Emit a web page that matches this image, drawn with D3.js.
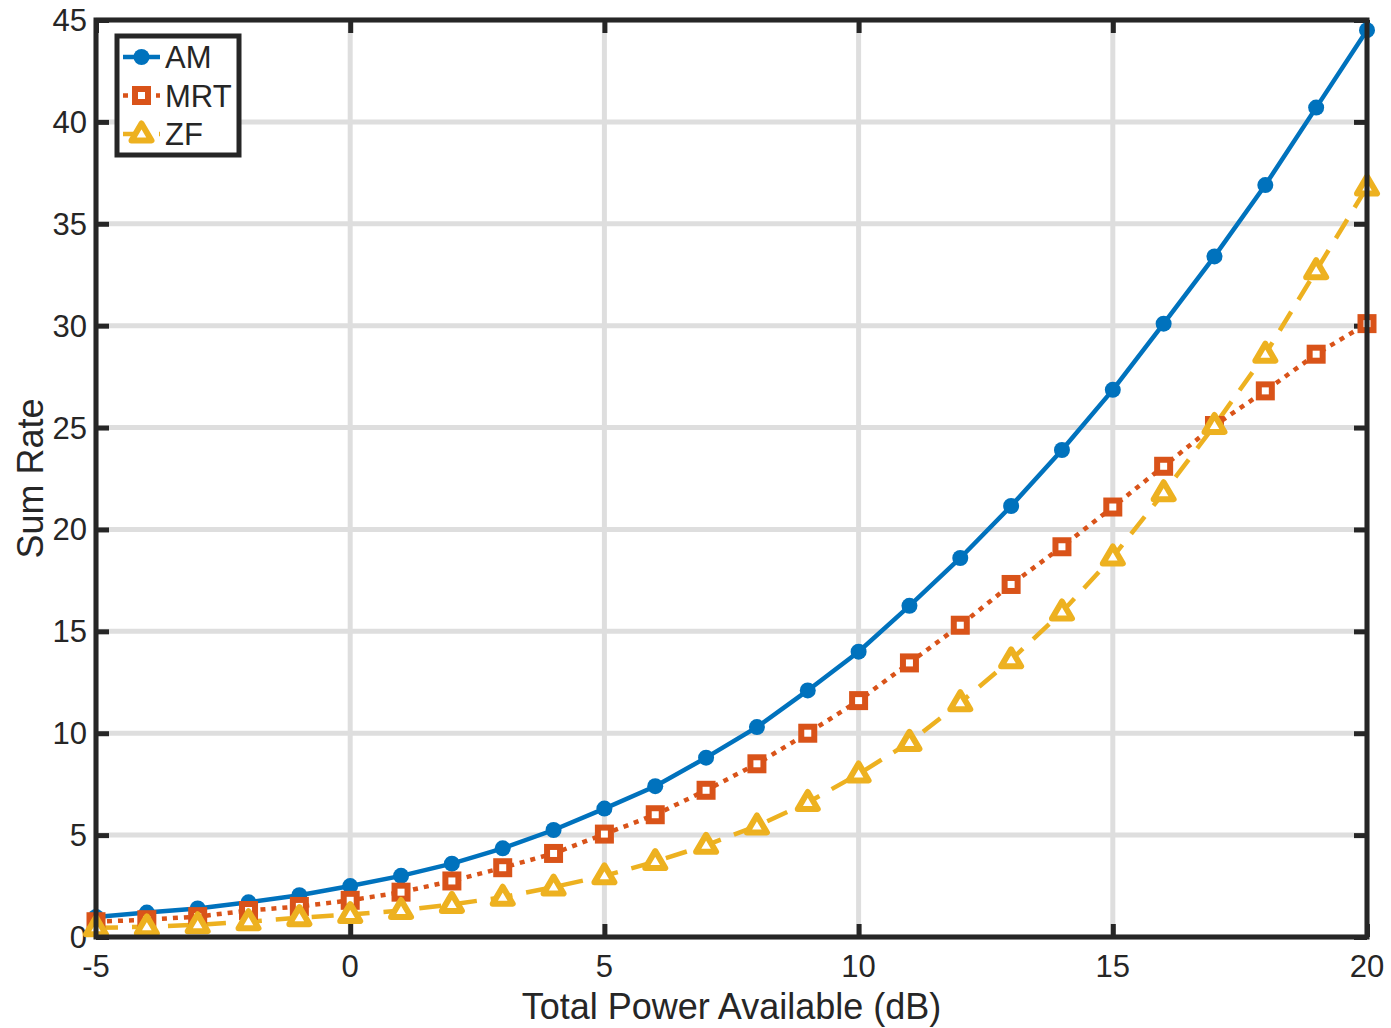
<!DOCTYPE html>
<html>
<head>
<meta charset="utf-8">
<script src="https://cdn.jsdelivr.net/npm/d3@7"></script>
<style>
  html, body { margin: 0; padding: 0; background: #fff; }
  text { font-family: "Liberation Sans", Arial, Helvetica, sans-serif; fill: #262626; }
</style>
</head>
<body>
<svg id="chart" width="1391" height="1028"></svg>
<script>
// Total power available (dB)
const powerDb = [-5,-4,-3,-2,-1,0,1,2,3,4,5,6,7,8,9,10,11,12,13,14,15,16,17,18,19,20];
// Sum rate per scheme
const sumRateAM  = [0.98,1.2,1.4,1.7,2.05,2.5,3.0,3.6,4.35,5.25,6.3,7.4,8.8,10.3,12.1,14.0,16.25,18.6,21.15,23.9,26.85,30.1,33.4,36.9,40.7,44.5];
const sumRateMRT = [0.75,0.85,1.0,1.3,1.5,1.8,2.2,2.75,3.4,4.1,5.05,6.0,7.2,8.5,10.0,11.6,13.45,15.3,17.3,19.15,21.1,23.1,25.1,26.8,28.6,30.1];
const sumRateZF  = [0.45,0.5,0.6,0.75,0.95,1.1,1.3,1.6,1.95,2.45,3.0,3.7,4.5,5.45,6.6,8.0,9.55,11.5,13.6,15.95,18.65,21.8,25.1,28.6,32.7,36.8];
const seriesNames = ["AM", "MRT", "ZF"];
const xTicks = [-5, 0, 5, 10, 15, 20];
const yTicks = [0, 5, 10, 15, 20, 25, 30, 35, 40, 45];
const xLabel = "Total Power Available (dB)";
const yLabel = "Sum Rate";

const svg = d3.select("#chart");
const plotLeft = 96, plotRight = 1367, plotTop = 20, plotBottom = 937;
const x = d3.scaleLinear().domain([-5, 20]).range([plotLeft, plotRight]);
const y = d3.scaleLinear().domain([0, 45]).range([plotBottom, plotTop]);

const axisColor = "#262626";
const gridColor = "#dedede";

// grid
const grid = svg.append("g");
grid.selectAll("line.gx").data(xTicks).join("line").attr("class", "gx")
  .attr("x1", d => x(d)).attr("x2", d => x(d)).attr("y1", plotTop).attr("y2", plotBottom)
  .attr("stroke", gridColor).attr("stroke-width", 5);
grid.selectAll("line.gy").data(yTicks).join("line").attr("class", "gy")
  .attr("y1", d => y(d)).attr("y2", d => y(d)).attr("x1", plotLeft).attr("x2", plotRight)
  .attr("stroke", gridColor).attr("stroke-width", 5);

// inward ticks on all four sides
const tickLen = 13;
const bottomAxis = d3.axisTop(x).tickValues(xTicks).tickSize(tickLen).tickFormat("");
const topAxis = d3.axisBottom(x).tickValues(xTicks).tickSize(tickLen).tickFormat("");
const leftAxis = d3.axisRight(y).tickValues(yTicks).tickSize(tickLen).tickFormat("");
const rightAxis = d3.axisLeft(y).tickValues(yTicks).tickSize(tickLen).tickFormat("");
function styleAxis(g) {
  g.select(".domain").remove();
  g.selectAll(".tick line").attr("stroke", axisColor).attr("stroke-width", 5);
}
svg.append("g").attr("transform", `translate(0,${plotBottom})`).call(bottomAxis).call(styleAxis);
svg.append("g").attr("transform", `translate(0,${plotTop})`).call(topAxis).call(styleAxis);
svg.append("g").attr("transform", `translate(${plotLeft},0)`).call(leftAxis).call(styleAxis);
svg.append("g").attr("transform", `translate(${plotRight},0)`).call(rightAxis).call(styleAxis);

// tick labels
svg.append("g").selectAll("text").data(xTicks).join("text")
  .attr("x", d => x(d)).attr("y", plotBottom + 40)
  .attr("text-anchor", "middle").attr("font-size", 31).text(d => d);
svg.append("g").selectAll("text").data(yTicks).join("text")
  .attr("x", plotLeft - 9).attr("y", d => y(d) + 11)
  .attr("text-anchor", "end").attr("font-size", 31).text(d => d);

// axis titles
svg.append("text").attr("x", (plotLeft + plotRight) / 2).attr("y", 1019)
  .attr("text-anchor", "middle").attr("font-size", 36).text(xLabel);
svg.append("text").attr("transform", `translate(43,${(plotTop + plotBottom) / 2}) rotate(-90)`)
  .attr("text-anchor", "middle").attr("font-size", 36).text(yLabel);

// series
const colors = ["#0072BD", "#D95319", "#EDB120"];
const dashes = [null, "5,6", "22,14"];
const allSeries = [sumRateAM, sumRateMRT, sumRateZF];
const line = d3.line().x((d, i) => x(powerDb[i])).y(d => y(d));
const plot = svg.append("g");

allSeries.forEach((vals, k) => {
  plot.append("path").datum(vals).attr("d", line)
    .attr("fill", "none").attr("stroke", colors[k]).attr("stroke-width", 4.5)
    .attr("stroke-dasharray", dashes[k]);
});

function drawMarker(g, k, cx, cy) {
  if (k === 0) {
    g.append("circle").attr("cx", cx).attr("cy", cy).attr("r", 8).attr("fill", colors[0]);
  } else if (k === 1) {
    g.append("rect").attr("x", cx - 6.5).attr("y", cy - 6.5).attr("width", 13).attr("height", 13)
      .attr("fill", "#fff").attr("stroke", colors[1]).attr("stroke-width", 6);
  } else {
    const s = 10;
    g.append("path")
      .attr("d", `M${cx},${cy - s * 1.05} L${cx + s},${cy + s * 0.65} L${cx - s},${cy + s * 0.65} Z`)
      .attr("fill", "#fff").attr("stroke", colors[2]).attr("stroke-width", 6)
      .attr("stroke-linejoin", "round");
  }
}
allSeries.forEach((vals, k) => {
  const g = plot.append("g");
  vals.forEach((v, i) => drawMarker(g, k, x(powerDb[i]), y(v)));
});

// axes box
svg.append("rect").attr("x", plotLeft).attr("y", plotTop)
  .attr("width", plotRight - plotLeft).attr("height", plotBottom - plotTop)
  .attr("fill", "none").attr("stroke", axisColor).attr("stroke-width", 5);

// legend
const lg = svg.append("g");
lg.append("rect").attr("x", 117).attr("y", 36).attr("width", 122).attr("height", 119)
  .attr("fill", "#fff").attr("stroke", axisColor).attr("stroke-width", 5);
seriesNames.forEach((name, k) => {
  const ly = 57 + k * 38.5;
  lg.append("line").attr("x1", 123).attr("x2", 160).attr("y1", ly).attr("y2", ly)
    .attr("stroke", colors[k]).attr("stroke-width", 4.5).attr("stroke-dasharray", dashes[k]);
  drawMarker(lg, k, 141.5, ly);
  lg.append("text").attr("x", 165).attr("y", ly + 11).attr("font-size", 31).text(name);
});
</script>
</body>
</html>
